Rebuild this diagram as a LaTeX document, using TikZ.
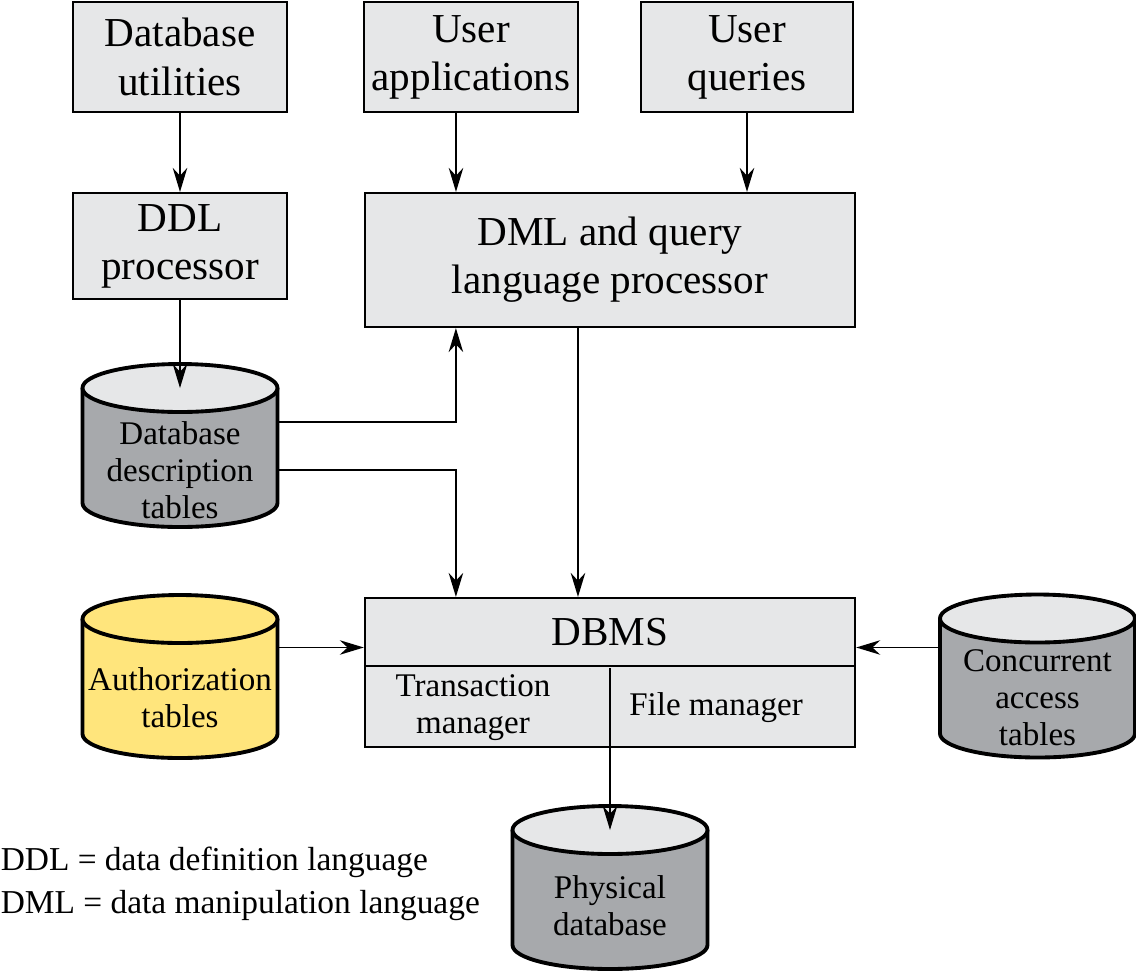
\documentclass[tikz,border=0pt]{standalone}
\usepackage{fontspec}
\setmainfont{Liberation Serif}
\usetikzlibrary{arrows.meta,calc}
\definecolor{boxgray}{HTML}{E6E7E8}
\definecolor{cylgray}{HTML}{A7A9AC}
\definecolor{authyellow}{HTML}{FFE57C}
\begin{document}
\begin{tikzpicture}[x=0.01cm, y=-0.01cm,
        >={Stealth[length=2.4mm,width=1.45mm]},
        every path/.style={line width=0.45pt},
        box/.style={draw, line width=0.6pt, fill=boxgray, align=center, inner sep=0pt,
            font=\fontsize{11.7}{13.7}\selectfont},
        small/.style={align=center, inner sep=0pt, font=\fontsize{9.4}{10.5}\selectfont},
        drumtext/.style={small, minimum width=1.95cm},
        pics/drum/.style 2 args={code={
            \draw[line width=1.1pt, fill=#1] (-97.5,-57.5) -- (-97.5,57.5)
                arc[start angle=180, end angle=0, x radius=97.5, y radius=24] -- (97.5,-57.5);
            \draw[line width=1.1pt, fill=#2] (0,-57.5) ellipse[x radius=97.5, y radius=24];
            \coordinate (-top) at (0,-57.5);
        }}]
            \useasboundingbox (0,0) rectangle (1136,972);
            \node[box, minimum width=2.14cm, minimum height=1.1cm] (dbutil) at (180, 57) {Database\\utilities};
            \node[box, minimum width=2.13cm, minimum height=1.1cm] (uapp) at (471, 57) {User\\applications};
            \node[box, minimum width=2.12cm, minimum height=1.1cm] (uq) at (747, 57) {User\\queries};
            \node[box, minimum width=2.14cm, minimum height=1.06cm] (ddl) at (180, 246) {DDL\\processor};
            \node[box, minimum width=4.9cm, minimum height=1.34cm] (dml) at (610, 260) {DML and query\\language processor};
            \node[box, minimum width=4.9cm, minimum height=1.49cm] (dbms) at (610, 672.5) {};
            \node[box, draw=none, fill=none] (dbmstitle) at (610, 632) {DBMS};
            \node[small] (tmgr) at (473, 708) {Transaction\\manager};
            \node[small] (fmgr) at (716, 708) {File manager};
            \pic (ddt) at (180, 445.5) {drum={cylgray}{boxgray}};
            \pic (auth) at (180, 676.5) {drum={authyellow}{authyellow}};
            \pic (conc) at (1037.5, 676) {drum={cylgray}{boxgray}};
            \pic (phys) at (610, 887.5) {drum={cylgray}{boxgray}};
            \node[drumtext] (ddt) at (180, 470) {Database\\description\\tables};
            \node[drumtext] (auth) at (180, 698) {Authorization\\tables};
            \node[drumtext] (conc) at (1037.5, 698) {Concurrent\\access\\tables};
            \node[drumtext] (phys) at (610, 906) {Physical\\database};
            \node[anchor=west, align=left, inner sep=0pt, font=\fontsize{9.5}{12.2}\selectfont] (legend) at (0, 884) {DDL = data definition language\\DML = data manipulation language};
            \draw ([yshift=-0.69cm]dbms.north west) -- ([yshift=-0.69cm]dbms.north east);
            \draw (dbms.south) -- ([yshift=0.8cm]dbms.south);
            \draw[->] (dbutil) to (ddl);
            \draw[->] ([xshift=-0.15cm]uapp.south) to ([xshift=-0.15cm]uapp.south |- dml.north);
            \draw[->] (uq) to (uq |- dml.north);
            \draw[->] (ddl) to (ddt-top);
            \draw[->] ([yshift=0.48cm]ddt.center -| ddt.east) -| ([xshift=-1.54cm]dml.south);
            \draw[->] (ddt.center -| ddt.east) -| ([xshift=-1.54cm]dbms.north);
            \draw[->] ([xshift=-0.32cm]dml.south) to ([xshift=-0.32cm]dml.south |- dbms.north);
            \draw[->] ([yshift=0.25cm]dbms.west -| auth.east) to ([yshift=0.25cm]dbms.west);
            \draw[->] ([yshift=0.25cm]dbms.east -| conc.west) to ([yshift=0.25cm]dbms.east);
            \draw[->] (dbms.south) to (phys-top);
    \end{tikzpicture}
\end{document}
